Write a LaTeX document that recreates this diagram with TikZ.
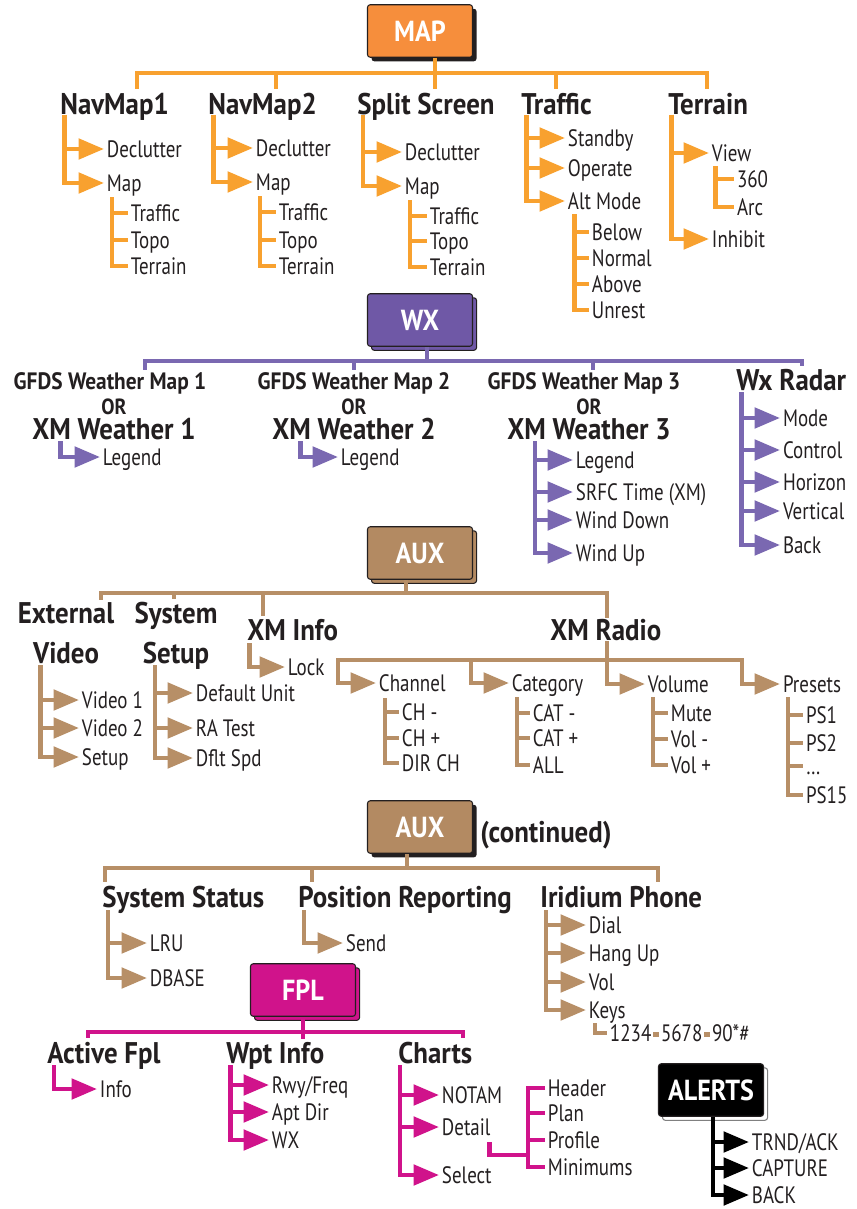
\documentclass[tikz,border=0pt]{standalone}
\usepackage{fontspec}
\setmainfont{PT Sans}[UprightFeatures={FakeStretch=0.8}, BoldFeatures={FakeStretch=0.9}]
\usetikzlibrary{arrows.meta,positioning,calc,shadows}

\definecolor{mapfill}{HTML}{F68E3C}
\definecolor{mapline}{HTML}{F8A12F}
\definecolor{wxfill}{HTML}{6F58A6}
\definecolor{wxline}{HTML}{7A68B1}
\definecolor{auxfill}{HTML}{B38A62}
\definecolor{auxline}{HTML}{B78F67}
\definecolor{fplfill}{HTML}{D0138B}
\definecolor{ink}{HTML}{231F20}

\tikzset{
  menubox/.style={draw=ink, line width=0.6pt, rounded corners=1.5pt, minimum width=2.1cm,
    minimum height=1.05cm, text=white, font=\bfseries\fontsize{16.5}{16.5}\selectfont},
  hd/.style={anchor=base west, inner sep=0pt, text=ink, font=\bfseries\fontsize{17}{17}\selectfont},
  hdc/.style={hd, anchor=base},
  gf/.style={hdc, text depth=0pt, font=\bfseries\fontsize{13.5}{14}\selectfont},
  orr/.style={hdc, text depth=0pt, font=\bfseries\fontsize{12.5}{13}\selectfont},
  itm/.style={anchor=west, inner xsep=1.5pt, inner ysep=0pt, text height=10pt, text depth=0pt,
    text=ink, font=\fontsize{13.5}{14}\selectfont},
  br/.style={line width=2.6pt},
  tip/.style={-{Triangle[length=14.5pt,width=11.5pt]}},
  shd/.style={general shadow={fill=#1, draw=ink, line width=0.6pt, shadow xshift=2.3pt, shadow yshift=-2.3pt}}
}

\begin{document}
\begin{tikzpicture}[x=0.02cm, y=-0.02cm]
  \useasboundingbox (0,0) rectangle (856,1209);

  % MAP
  \node[menubox, fill=mapfill, general shadow={fill=ink, shadow xshift=2.3pt, shadow yshift=-2.3pt}] (mapm) at (420,31) {MAP};
  \foreach \n/\t/\x in {nm1/NavMap1/60, nm2/NavMap2/208, splt/Split Screen/357, trf/Traffic/521, ter/Terrain/668}
    \node[hd] (\n) at (\x,115) {\t};
  \coordinate (mapbus) at (435,73);
  \draw[br, mapline] (mapm.south -| mapbus) -- (mapbus);
  \foreach \n/\d in {nm1/77, nm2/68, splt/78, trf/35, ter/39}
    \draw[br, mapline] (mapbus) -| ($(\n.north west)+(\d,-4)$);

  % NavMap1
  \coordinate (nm1v) at ($(nm1.base west)+(4.5,0)$);
  \foreach \t/\y [count=\i] in {Declutter/149, Map/183} {
    \node[itm] (nm1c\i) at (104,\y) {\t};
    \draw[br, mapline, tip] (nm1v) |- (nm1c\i.west);
  }
  \coordinate (nm1m) at ($(nm1c2.south west)+(8,5)$);
  \foreach \t/\y [count=\i] in {Traffic/213, Topo/240, Terrain/266} {
    \node[itm] (nm1s\i) at (128,\y) {\t};
    \draw[br, mapline] (nm1m) |- (nm1s\i.west);
  }

  % NavMap2
  \coordinate (nm2v) at ($(nm2.base west)+(5.5,0)$);
  \foreach \t/\y [count=\i] in {Declutter/148, Map/182} {
    \node[itm] (nm2c\i) at (253,\y) {\t};
    \draw[br, mapline, tip] (nm2v) |- (nm2c\i.west);
  }
  \coordinate (nm2m) at ($(nm2c2.south west)+(7,5)$);
  \foreach \t/\y [count=\i] in {Traffic/212, Topo/240, Terrain/266} {
    \node[itm] (nm2s\i) at (276,\y) {\t};
    \draw[br, mapline] (nm2m) |- (nm2s\i.west);
  }

  % Split Screen
  \coordinate (spltv) at ($(splt.base west)+(6,0)$);
  \foreach \t/\y [count=\i] in {Declutter/152, Map/186} {
    \node[itm] (spltc\i) at (402,\y) {\t};
    \draw[br, mapline, tip] (spltv) |- (spltc\i.west);
  }
  \coordinate (spltm) at ($(spltc2.south west)+(8,5)$);
  \foreach \t/\y [count=\i] in {Traffic/216, Topo/241, Terrain/267} {
    \node[itm] (splts\i) at (427,\y) {\t};
    \draw[br, mapline] (spltm) |- (splts\i.west);
  }

  % Traffic
  \coordinate (trfv) at ($(trf.base west)+(5.5,0)$);
  \foreach \t/\y [count=\i] in {Standby/138, Operate/168, Alt Mode/201} {
    \node[itm] (trfc\i) at (565,\y) {\t};
    \draw[br, mapline, tip] (trfv) |- (trfc\i.west);
  }
  \coordinate (trfm) at ($(trfc3.south west)+(9.5,4)$);
  \foreach \t/\y [count=\i] in {Below/232, Normal/258, Above/284, Unrest/310} {
    \node[itm] (trfs\i) at (589,\y) {\t};
    \draw[br, mapline] (trfm) |- (trfs\i.west);
  }

  % Terrain
  \coordinate (terv) at ($(ter.base west)+(3.5,0)$);
  \foreach \t/\y [count=\i] in {View/153, Inhibit/239} {
    \node[itm] (terc\i) at (709,\y) {\t};
    \draw[br, mapline, tip] (terv) |- (terc\i.west);
  }
  \coordinate (term) at ($(terc1.south west)+(6.5,4)$);
  \foreach \t/\y [count=\i] in {360/179, Arc/207} {
    \node[itm] (ters\i) at (734,\y) {\t};
    \draw[br, mapline] (term) |- (ters\i.west);
  }

  % WX
  \node[menubox, fill=wxfill, shd=wxfill] (wxm) at (420,320) {WX};
  \foreach \i/\x/\xo in {1/110/114, 2/354/354, 3/584/589} {
    \node[gf] (gf\i) at (\x,389) {GFDS Weather Map \i};
    \node[orr] (or\i) at (\xo,414) {OR};
    \node[hdc] (xm\i) at (\xo,439) {XM Weather \i};
  }
  \node[hd] (wxr) at (736,390) {Wx Radar};
  \coordinate (wxbus) at (427,361);
  \draw[br, wxline] (wxm.south -| wxbus) -- (wxbus);
  \foreach \n/\d in {gf1/35, gf2/0, gf3/9}
    \draw[br, wxline] (wxbus) -| ($(\n.north)+(\d,-2)$);
  \draw[br, wxline] (wxbus) -| ($(wxr.north west)+(66,-2)$);

  \foreach \i/\x in {1/100, 2/338} {
    \coordinate (xm\i v) at ($(xm\i.base)+(-53.5,2)$);
    \node[itm] (lg\i) at (\x,457) {Legend};
    \draw[br, wxline, tip] (xm\i v) |- (lg\i.west);
  }
  \coordinate (xm3v) at ($(xm3.base)+(-54,2)$);
  \foreach \t/\y [count=\i] in {Legend/460, SRFC Time (XM)/492, Wind Down/520, Wind Up/553} {
    \node[itm] (xm3c\i) at (573,\y) {\t};
    \draw[br, wxline, tip] (xm3v) |- (xm3c\i.west);
  }
  \coordinate (wxrv) at ($(wxr.base west)+(5.5,2)$);
  \foreach \t/\y [count=\i] in {Mode/418, Control/450, Horizon/482, Vertical/511, Back/545} {
    \node[itm] (wxrc\i) at (780,\y) {\t};
    \draw[br, wxline, tip] (wxrv) |- (wxrc\i.west);
  }

  % AUX
  \node[menubox, fill=auxfill, shd=auxfill] (auxm) at (420,553) {AUX};
  \node[hdc] (ext1) at (66,623) {External};
  \node[hdc] (ext2) at (66,663) {Video};
  \node[hdc] (sys1) at (176,623) {System};
  \node[hdc] (sys2) at (176,663) {Setup};
  \node[hd] (xmi) at (247,640) {XM Info};
  \node[hd] (xmr) at (550,640) {XM Radio};
  \coordinate (auxbus) at (406,593);
  \coordinate (xmrbus) at (607,660);
  \draw[br, auxline] (auxm.south -| auxbus) -- (auxbus);
  \draw[br, auxline] (auxbus) -| ($(ext1.north)+(35,-2)$);
  \draw[br, auxline] (auxbus) -| ($(sys1.north)+(-2,-2)$);
  \draw[br, auxline] (auxbus) -| ($(xmi.north west)+(16,-3)$);
  \draw[br, auxline] (auxbus) -| (xmr.north -| xmrbus);
  \draw[br, auxline] (xmr.south -| xmrbus) -- (xmrbus);

  \coordinate (extv) at ($(ext2.base)+(-25.5,2)$);
  \foreach \t/\y [count=\i] in {Video 1/700, Video 2/728, Setup/757} {
    \node[itm] (extc\i) at (79,\y) {\t};
    \draw[br, auxline, tip] (extv) |- (extc\i.west);
  }
  \coordinate (sysv) at ($(sys2.base)+(-21,2)$);
  \foreach \t/\y [count=\i] in {Default Unit/693, RA Test/728, Dflt Spd/758} {
    \node[itm] (sysc\i) at (193,\y) {\t};
    \draw[br, auxline, tip] (sysv) |- (sysc\i.west);
  }
  \coordinate (xmiv) at ($(xmi.base west)+(2.5,3)$);
  \node[itm] (lock) at (285,667) {Lock};
  \draw[br, auxline, tip] (xmiv) |- (lock.west);

  \foreach \t/\x/\y [count=\i] in {Channel/376/683, Category/509/683, Volume/645/684, Presets/780/684} {
    \node[itm] (xr\i) at (\x,\y) {\t};
    \draw[br, auxline, tip] (xmrbus) -| ($(xr\i.west)+(-38,0)$) -- (xr\i.west);
  }
  \coordinate (xr1v) at ($(xr1.south west)+(9,6)$);
  \foreach \t/\y [count=\i] in {CH -/712, CH +/738, DIR CH/763} {
    \node[itm] (xr1s\i) at (399,\y) {\t};
    \draw[br, auxline] (xr1v) |- (xr1s\i.west);
  }
  \coordinate (xr2v) at ($(xr2.south west)+(8,5)$);
  \foreach \t/\y [count=\i] in {CAT -/713, CAT +/738, ALL/765} {
    \node[itm] (xr2s\i) at (530,\y) {\t};
    \draw[br, auxline] (xr2v) |- (xr2s\i.west);
  }
  \coordinate (xr3v) at ($(xr3.south west)+(8,4)$);
  \foreach \t/\y [count=\i] in {Mute/713, Vol -/739, Vol +/765} {
    \node[itm] (xr3s\i) at (668,\y) {\t};
    \draw[br, auxline] (xr3v) |- (xr3s\i.west);
  }
  \coordinate (xr4v) at ($(xr4.south west)+(8,4)$);
  \foreach \t/\y [count=\i] in {PS1/715, PS2/743, {\ldots}/766, PS15/795} {
    \node[itm] (xr4s\i) at (803,\y) {\t};
    \draw[br, auxline] (xr4v) |- (xr4s\i.west);
  }

  % AUX (continued)
  \node[menubox, fill=auxfill, general shadow={fill=ink, shadow xshift=2.3pt, shadow yshift=-2.3pt}] (aux2) at (420,827) {AUX};
  \node[hd] (cont) at (480,842) {(continued)};
  \node[hd] (sst) at (102,907) {System Status};
  \node[hd] (prp) at (298,907) {Position Reporting};
  \node[hd] (irp) at (540,907) {Iridium Phone};
  \coordinate (aux2bus) at (407,868);
  \draw[br, auxline] (aux2.south -| aux2bus) -- (aux2bus);
  \foreach \n/\d in {sst/3, prp/14, irp/118}
    \draw[br, auxline] (aux2bus) -| ($(\n.north west)+(\d,-3)$);

  \coordinate (sstv) at ($(sst.base west)+(6,3)$);
  \foreach \t/\y [count=\i] in {LRU/943, DBASE/978} {
    \node[itm] (sstc\i) at (147,\y) {\t};
    \draw[br, auxline, tip] (sstv) |- (sstc\i.west);
  }
  \coordinate (prpv) at ($(prp.base west)+(6,3)$);
  \node[itm] (send) at (343,943) {Send};
  \draw[br, auxline, tip] (prpv) |- (send.west);
  \coordinate (irpv) at ($(irp.base west)+(6,3)$);
  \foreach \t/\y [count=\i] in {Dial/925, Hang Up/953, Vol/982, Keys/1010} {
    \node[itm] (irpc\i) at (586,\y) {\t};
    \draw[br, auxline, tip] (irpv) |- (irpc\i.west);
  }
  \coordinate (keysv) at ($(irpc4.south west)+(9,4)$);
  \node[itm] (digits) at (607,1033) {1234\kern1pt\textcolor{auxline}{\rule[3pt]{3.5pt}{2.6pt}}\kern1pt5678\kern1pt\textcolor{auxline}{\rule[3pt]{3.5pt}{2.6pt}}\kern1pt90*\#};
  \draw[br, auxline] (keysv) |- (digits.west);

  % FPL
  \node[menubox, fill=fplfill, shd=fplfill] (fplm) at (303,990) {FPL};
  \node[hd] (afp) at (47,1063) {Active Fpl};
  \node[hd] (wpt) at (226,1063) {Wpt Info};
  \node[hd] (cht) at (398,1063) {Charts};
  \coordinate (fplbus) at (303,1032);
  \draw[br, fplfill] (fplm.south) -- (fplbus);
  \foreach \n/\d in {afp/41, wpt/77, cht/65}
    \draw[br, fplfill] (fplbus) -| ($(\n.north west)+(\d,-3)$);

  \coordinate (afpv) at ($(afp.base west)+(7,2)$);
  \node[itm] (info) at (97,1089) {Info};
  \draw[br, fplfill, tip] (afpv) |- (info.west);
  \coordinate (wptv) at ($(wpt.base west)+(4.5,2)$);
  \foreach \t/\y [count=\i] in {{Rwy/Freq}/1085, Apt Dir/1112, WX/1140} {
    \node[itm] (wptc\i) at (269,\y) {\t};
    \draw[br, fplfill, tip] (wptv) |- (wptc\i.west);
  }
  \coordinate (chtv) at ($(cht.base west)+(2,2)$);
  \foreach \t/\y [count=\i] in {NOTAM/1095, Detail/1127, Select/1175} {
    \node[itm] (chtc\i) at (439,\y) {\t};
    \draw[br, fplfill, tip] (chtv) |- (chtc\i.west);
  }
  \foreach \t/\y [count=\i] in {Header/1088, Plan/1113, Profile/1140, Minimums/1167}
    \node[itm] (dtl\i) at (545,\y) {\t};
  \coordinate (dtlj) at (528,1155);
  \coordinate (dtld) at ($(chtc2.south east)+(-4,6)$);
  \draw[br, fplfill] (dtld) |- (dtlj);
  \draw[br, fplfill] (dtl1.west) -| (dtlj) |- (dtl4.west);
  \foreach \i in {2,3}
    \draw[br, fplfill] (dtlj) |- (dtl\i.west);

  % ALERTS
  \node[menubox, fill=black, general shadow={fill=white, draw=gray, line width=0.6pt, shadow xshift=2.3pt, shadow yshift=-2.3pt}] (alm) at (711,1090) {ALERTS};
  \coordinate (almv) at ($(alm.south)+(2,0)$);
  \foreach \t/\y [count=\i] in {{TRND/ACK}/1142, CAPTURE/1168, BACK/1195} {
    \node[itm] (almc\i) at (749,\y) {\t};
    \draw[br, black, tip] (almv) |- (almc\i.west);
  }
\end{tikzpicture}
\end{document}
